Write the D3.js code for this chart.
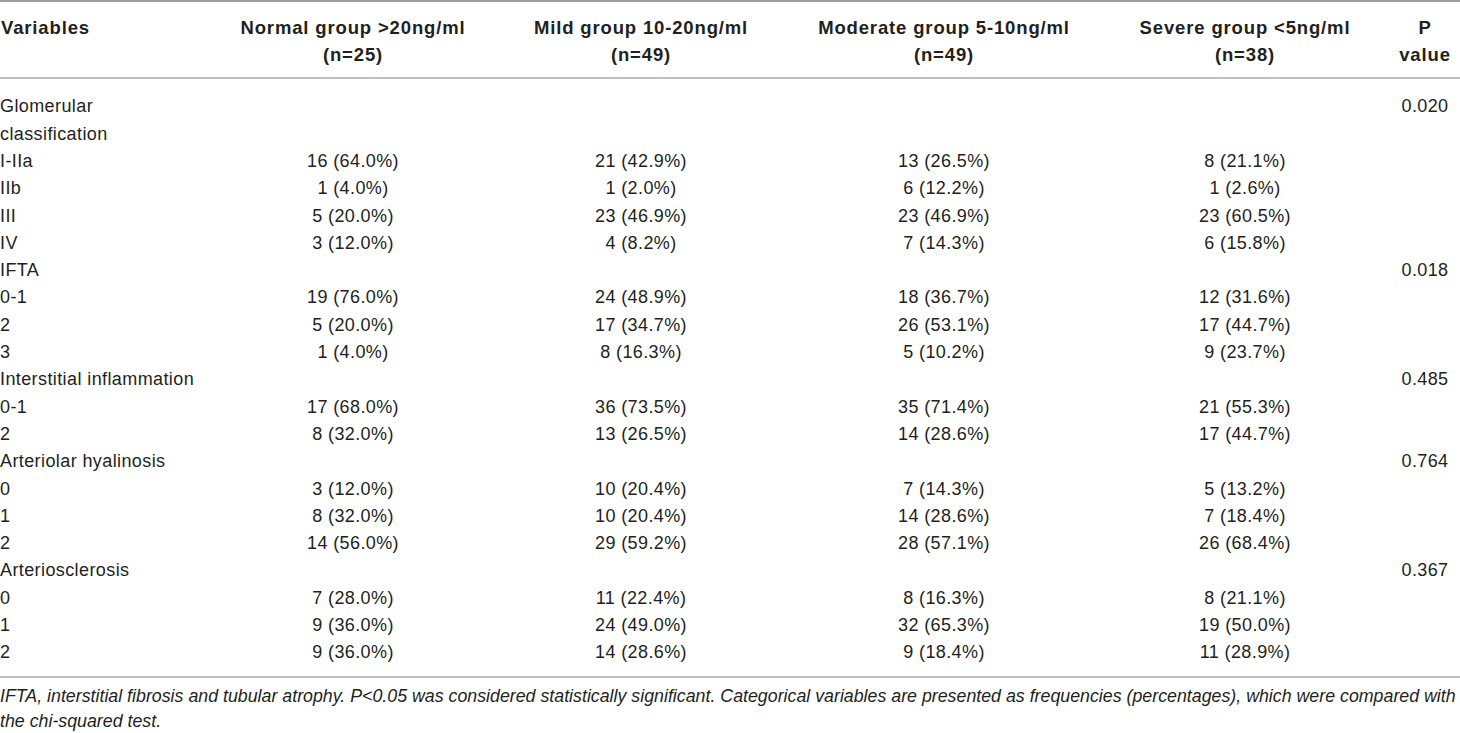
<!DOCTYPE html>
<html>
<head>
<meta charset="utf-8">
<script src="https://cdn.jsdelivr.net/npm/d3@7/dist/d3.min.js"></script>
<style>
  html, body { margin: 0; padding: 0; background: #fff; }
  svg { display: block; }
  text { font-family: "Liberation Sans", Arial, Helvetica, sans-serif; fill: #231f20; }
</style>
</head>
<body>
<svg id="chart" width="1460" height="733"></svg>
<script>
// ---- data ----
const groupNames = ["Normal group >20ng/ml", "Mild group 10-20ng/ml", "Moderate group 5-10ng/ml", "Severe group <5ng/ml"];
const groupN = ["(n=25)", "(n=49)", "(n=49)", "(n=38)"];
const pHeader = ["P", "value"];
const rowLabels = ["Glomerular", "classification", "I-IIa", "IIb", "III", "IV",
  "IFTA", "0-1", "2", "3",
  "Interstitial inflammation", "0-1", "2",
  "Arteriolar hyalinosis", "0", "1", "2",
  "Arteriosclerosis", "0", "1", "2"];
const normalCount = [null, null, 16, 1, 5, 3, null, 19, 5, 1, null, 17, 8, null, 3, 8, 14, null, 7, 9, 9];
const normalPct   = [null, null, 64.0, 4.0, 20.0, 12.0, null, 76.0, 20.0, 4.0, null, 68.0, 32.0, null, 12.0, 32.0, 56.0, null, 28.0, 36.0, 36.0];
const mildCount   = [null, null, 21, 1, 23, 4, null, 24, 17, 8, null, 36, 13, null, 10, 10, 29, null, 11, 24, 14];
const mildPct     = [null, null, 42.9, 2.0, 46.9, 8.2, null, 48.9, 34.7, 16.3, null, 73.5, 26.5, null, 20.4, 20.4, 59.2, null, 22.4, 49.0, 28.6];
const moderateCount = [null, null, 13, 6, 23, 7, null, 18, 26, 5, null, 35, 14, null, 7, 14, 28, null, 8, 32, 9];
const moderatePct   = [null, null, 26.5, 12.2, 46.9, 14.3, null, 36.7, 53.1, 10.2, null, 71.4, 28.6, null, 14.3, 28.6, 57.1, null, 16.3, 65.3, 18.4];
const severeCount = [null, null, 8, 1, 23, 6, null, 12, 17, 9, null, 21, 17, null, 5, 7, 26, null, 8, 19, 11];
const severePct   = [null, null, 21.1, 2.6, 60.5, 15.8, null, 31.6, 44.7, 23.7, null, 55.3, 44.7, null, 13.2, 18.4, 68.4, null, 21.1, 50.0, 28.9];
const pValues = ["0.020", null, null, null, null, null, "0.018", null, null, null, "0.485", null, null, "0.764", null, null, null, "0.367", null, null, null];
const footnote = [
  "IFTA, interstitial fibrosis and tubular atrophy. P<0.05 was considered statistically significant. Categorical variables are presented as frequencies (percentages), which were compared with",
  "the chi-squared test."
];

// ---- layout ----
const svg = d3.select("#chart");
const W = 1460;
const colKeys = ["normal", "mild", "moderate", "severe", "p"];
const x = d3.scaleOrdinal().domain(colKeys).range([353, 641, 944, 1245, 1425]);
const y = d3.scaleLinear().domain([0, rowLabels.length - 1]).range([106, 652]);

const series = [
  {key: "normal", c: normalCount, p: normalPct},
  {key: "mild", c: mildCount, p: mildPct},
  {key: "moderate", c: moderateCount, p: moderatePct},
  {key: "severe", c: severeCount, p: severePct}
];

// rules
const rules = [
  {y: 1, w: 2.2, col: "#9e9e9e"},
  {y: 78, w: 1.5, col: "#a8a8a8"},
  {y: 677, w: 1.5, col: "#a8a8a8"}
];
svg.selectAll("line.rule").data(rules).join("line")
  .attr("class", "rule")
  .attr("x1", 0).attr("x2", W)
  .attr("y1", d => d.y).attr("y2", d => d.y)
  .attr("stroke", d => d.col).attr("stroke-width", d => d.w);

// header
const hdr = svg.append("g").attr("font-weight", "bold").attr("font-size", 18.5).attr("letter-spacing", 0.85);
hdr.append("text").attr("x", 1).attr("y", 28).attr("dy", "0.35em").text("Variables");
groupNames.forEach((g, i) => {
  hdr.append("text").attr("x", x(colKeys[i])).attr("y", 28).attr("dy", "0.35em")
    .attr("text-anchor", "middle").text(g);
  hdr.append("text").attr("x", x(colKeys[i])).attr("y", 55).attr("dy", "0.35em")
    .attr("text-anchor", "middle").text(groupN[i]);
});
hdr.selectAll("text.ph").data(pHeader).join("text").attr("class", "ph")
  .attr("x", x("p")).attr("y", (d, i) => i === 0 ? 28 : 55).attr("dy", "0.35em")
  .attr("text-anchor", "middle").text(d => d);

// body
const body = svg.append("g").attr("font-size", 18).attr("letter-spacing", 0.4);
body.selectAll("text.lab").data(rowLabels).join("text").attr("class", "lab")
  .attr("x", 0).attr("y", (d, i) => y(i)).attr("dy", "0.35em").text(d => d);

series.forEach(s => {
  const cells = s.c.map((v, i) => ({i, v, p: s.p[i]})).filter(d => d.v !== null);
  body.selectAll("text.v-" + s.key).data(cells).join("text").attr("class", "v-" + s.key)
    .attr("x", x(s.key)).attr("y", d => y(d.i)).attr("dy", "0.35em")
    .attr("text-anchor", "middle")
    .text(d => `${d.v} (${d.p.toFixed(1)}%)`);
});

const pCells = pValues.map((v, i) => ({i, v})).filter(d => d.v !== null);
body.selectAll("text.pv").data(pCells).join("text").attr("class", "pv")
  .attr("x", x("p")).attr("y", d => y(d.i)).attr("dy", "0.35em")
  .attr("text-anchor", "middle").text(d => d.v);

// footnote
svg.append("g").attr("font-size", 17.8).attr("font-style", "italic")
  .selectAll("text").data(footnote).join("text")
  .attr("x", 0).attr("y", (d, i) => 696 + i * 24.5).attr("dy", "0.35em").text(d => d);
</script>
</body>
</html>
